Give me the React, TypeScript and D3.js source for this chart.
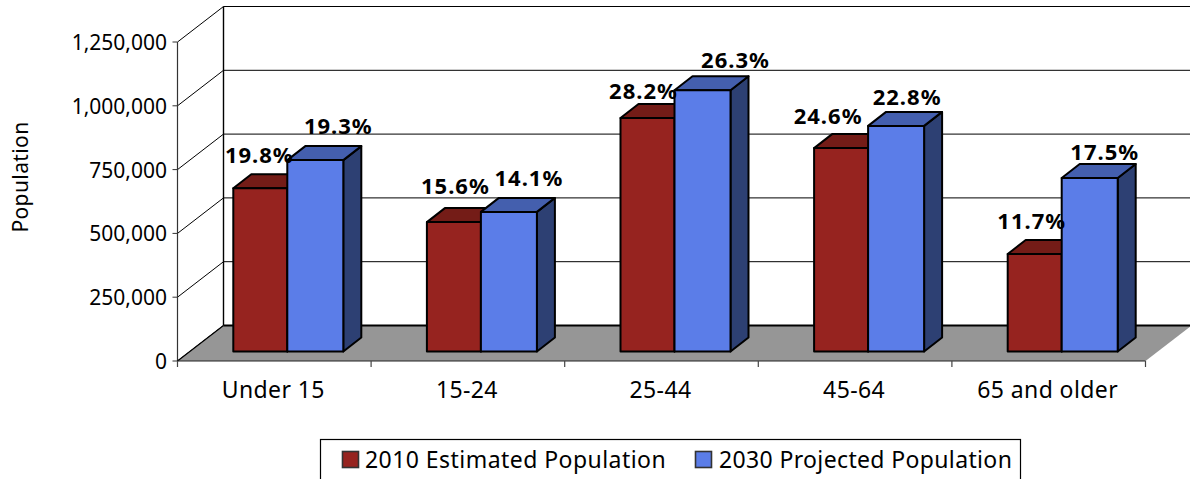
import React from "react";
import * as d3 from "d3";

const categories = ["Under 15", "15-24", "25-44", "45-64", "65 and older"];
const estimated2010 = [640000, 507000, 915000, 797000, 382000];
const projected2030 = [750000, 547000, 1024000, 884000, 680000];
const labels2010 = ["19.8%", "15.6%", "28.2%", "24.6%", "11.7%"];
const labels2030 = ["19.3%", "14.1%", "26.3%", "22.8%", "17.5%"];
const yTicks = [0, 250000, 500000, 750000, 1000000, 1250000];
const nudge2010 = [[-1, -25], [1.5, -28], [-4, -19], [-13, -24], [-3, -25]];
const nudge2030 = [[23, -26], [20, -26], [33, -22], [11, -21], [15, -18]];
const seriesNames = ["2010 Estimated Population", "2030 Projected Population"];

const W = 1190, H = 479;
const FONT = "'Noto Sans', sans-serif";
const C = {
  red: "#96231F", redTop: "#741C17", redSide: "#4B1210",
  blue: "#5B7DE8", blueTop: "#445FAE", blueSide: "#2D4073",
  floor: "#969696",
};
const x0 = 177.5, x1 = 1145.5, yBase = 361, yTop = 42;
const wallDx = 46, wallDy = -35.5;
const barDx = 18, barDy = -14;
const barInsetX = 19.5, barInsetY = -9.5; // floor position of bar fronts from the front edge

const x = d3.scaleBand<string>().domain(categories).range([x0, x1]);
const y = d3.scaleLinear().domain([0, 1250000]).range([yBase, yTop]);
const fmt = d3.format(",");
const pts = (p: number[][]) => p.map((q) => q.join(",")).join(" ");

function Bar({ left, w, v, face, top, side }: any) {
  const base = yBase + barInsetY;
  const h = yBase - y(v);
  const t = base - h;
  const r = left + w;
  const sw = { stroke: "#000", strokeWidth: 2, strokeLinejoin: "round" as const };
  return (
    <g>
      <polygon points={pts([[r, base], [r + barDx, base + barDy], [r + barDx, t + barDy], [r, t]])} fill={side} {...sw} />
      <polygon points={pts([[left, t], [left + barDx, t + barDy], [r + barDx, t + barDy], [r, t]])} fill={top} {...sw} />
      <rect x={left} y={t} width={w} height={h} fill={face} {...sw} />
    </g>
  );
}

export default function App() {
  const redW = 54, blueW = 56;
  const groupOffset = (x.bandwidth() - redW - blueW - barDx) / 2 + barInsetX + 3.5;
  return (
    <svg width={W} height={H} viewBox={`0 0 ${W} ${H}`} style={{ position: "absolute", left: 0, top: 0, background: "#fff" }} fontFamily={FONT}>
      {/* back wall gridlines and side wall */}
      {yTicks.map((t) => (
        <g key={t} stroke="#000" strokeWidth={1}>
          <line x1={x0} y1={y(t)} x2={x0 + wallDx} y2={y(t) + wallDy} />
          <line x1={x0 + wallDx} y1={y(t) + wallDy} x2={x1 + wallDx} y2={y(t) + wallDy} />
          <line x1={x0 - 5} y1={y(t)} x2={x0} y2={y(t)} stroke="#333" />
        </g>
      ))}
      <line x1={x0 + wallDx} y1={y(0) + wallDy} x2={x0 + wallDx} y2={y(1250000) + wallDy} stroke="#000" strokeWidth={1.4} />
      <line x1={x0} y1={y(0)} x2={x0} y2={y(1250000)} stroke="#333" strokeWidth={1.2} />
      {/* floor */}
      <polygon points={pts([[x0, yBase], [x0 + wallDx, yBase + wallDy], [x1 + wallDx, yBase + wallDy], [x1, yBase]])} fill={C.floor} />
      <line x1={x0 + wallDx} y1={yBase + wallDy} x2={x1 + wallDx - 1} y2={yBase + wallDy} stroke="#000" strokeWidth={1.8} />
      <line x1={x0} y1={yBase} x2={x0 + wallDx} y2={yBase + wallDy} stroke="#000" strokeWidth={1.2} />
      <line x1={x0} y1={yBase} x2={x1} y2={yBase} stroke="#222" strokeWidth={1.2} />
      {/* x ticks */}
      {[...categories.map((c) => x(c)!), x1].map((p, i) => (
        <line key={i} x1={p} y1={yBase} x2={p} y2={yBase + 6} stroke="#444" strokeWidth={1.2} />
      ))}
      {/* y tick labels */}
      {yTicks.map((t) => (
        <text key={t} x={167} y={y(t) + 8} textAnchor="end" fontSize={21} fill="#000">{fmt(t)}</text>
      ))}
      <text transform="translate(28,177) rotate(-90)" textAnchor="middle" fontSize={21} letterSpacing={0.4} fill="#000">Population</text>
      {/* bars */}
      {categories.map((c, i) => {
        const left = x(c)! + groupOffset;
        return (
          <g key={c}>
            <Bar left={left} w={redW} v={estimated2010[i]} face={C.red} top={C.redTop} side={C.redSide} />
            <Bar left={left + redW} w={blueW} v={projected2030[i]} face={C.blue} top={C.blueTop} side={C.blueSide} />
          </g>
        );
      })}
      {/* data labels */}
      {categories.map((c, i) => {
        const left = x(c)! + groupOffset;
        const baseShift = barInsetY;
        return (
          <g key={c} fontSize={22} fontWeight={700} letterSpacing={1} textAnchor="middle" fill="#000">
            <text x={left + redW / 2 + nudge2010[i][0]} y={y(estimated2010[i]) + baseShift + nudge2010[i][1]}>{labels2010[i]}</text>
            <text x={left + redW + blueW / 2 + nudge2030[i][0]} y={y(projected2030[i]) + baseShift + nudge2030[i][1]}>{labels2030[i]}</text>
          </g>
        );
      })}
      {/* category labels */}
      {categories.map((c) => (
        <text key={c} x={x(c)! + x.bandwidth() / 2 - 1} y={398} textAnchor="middle" fontSize={23} letterSpacing={0.4} fill="#000">{c}</text>
      ))}
      {/* legend */}
      <rect x={320.5} y={439.5} width={700} height={46} fill="#fff" stroke="#000" strokeWidth={1.2} />
      <rect x={342.5} y={451.5} width={16} height={16} fill={C.red} stroke="#333" strokeWidth={1.6} />
      <text x={365} y={467.5} fontSize={23} letterSpacing={0.45} fill="#000">{seriesNames[0]}</text>
      <rect x={695.5} y={451.5} width={16} height={16} fill={C.blue} stroke="#333" strokeWidth={1.6} />
      <text x={719} y={467.5} fontSize={23} letterSpacing={0.36} fill="#000">{seriesNames[1]}</text>
    </svg>
  );
}
